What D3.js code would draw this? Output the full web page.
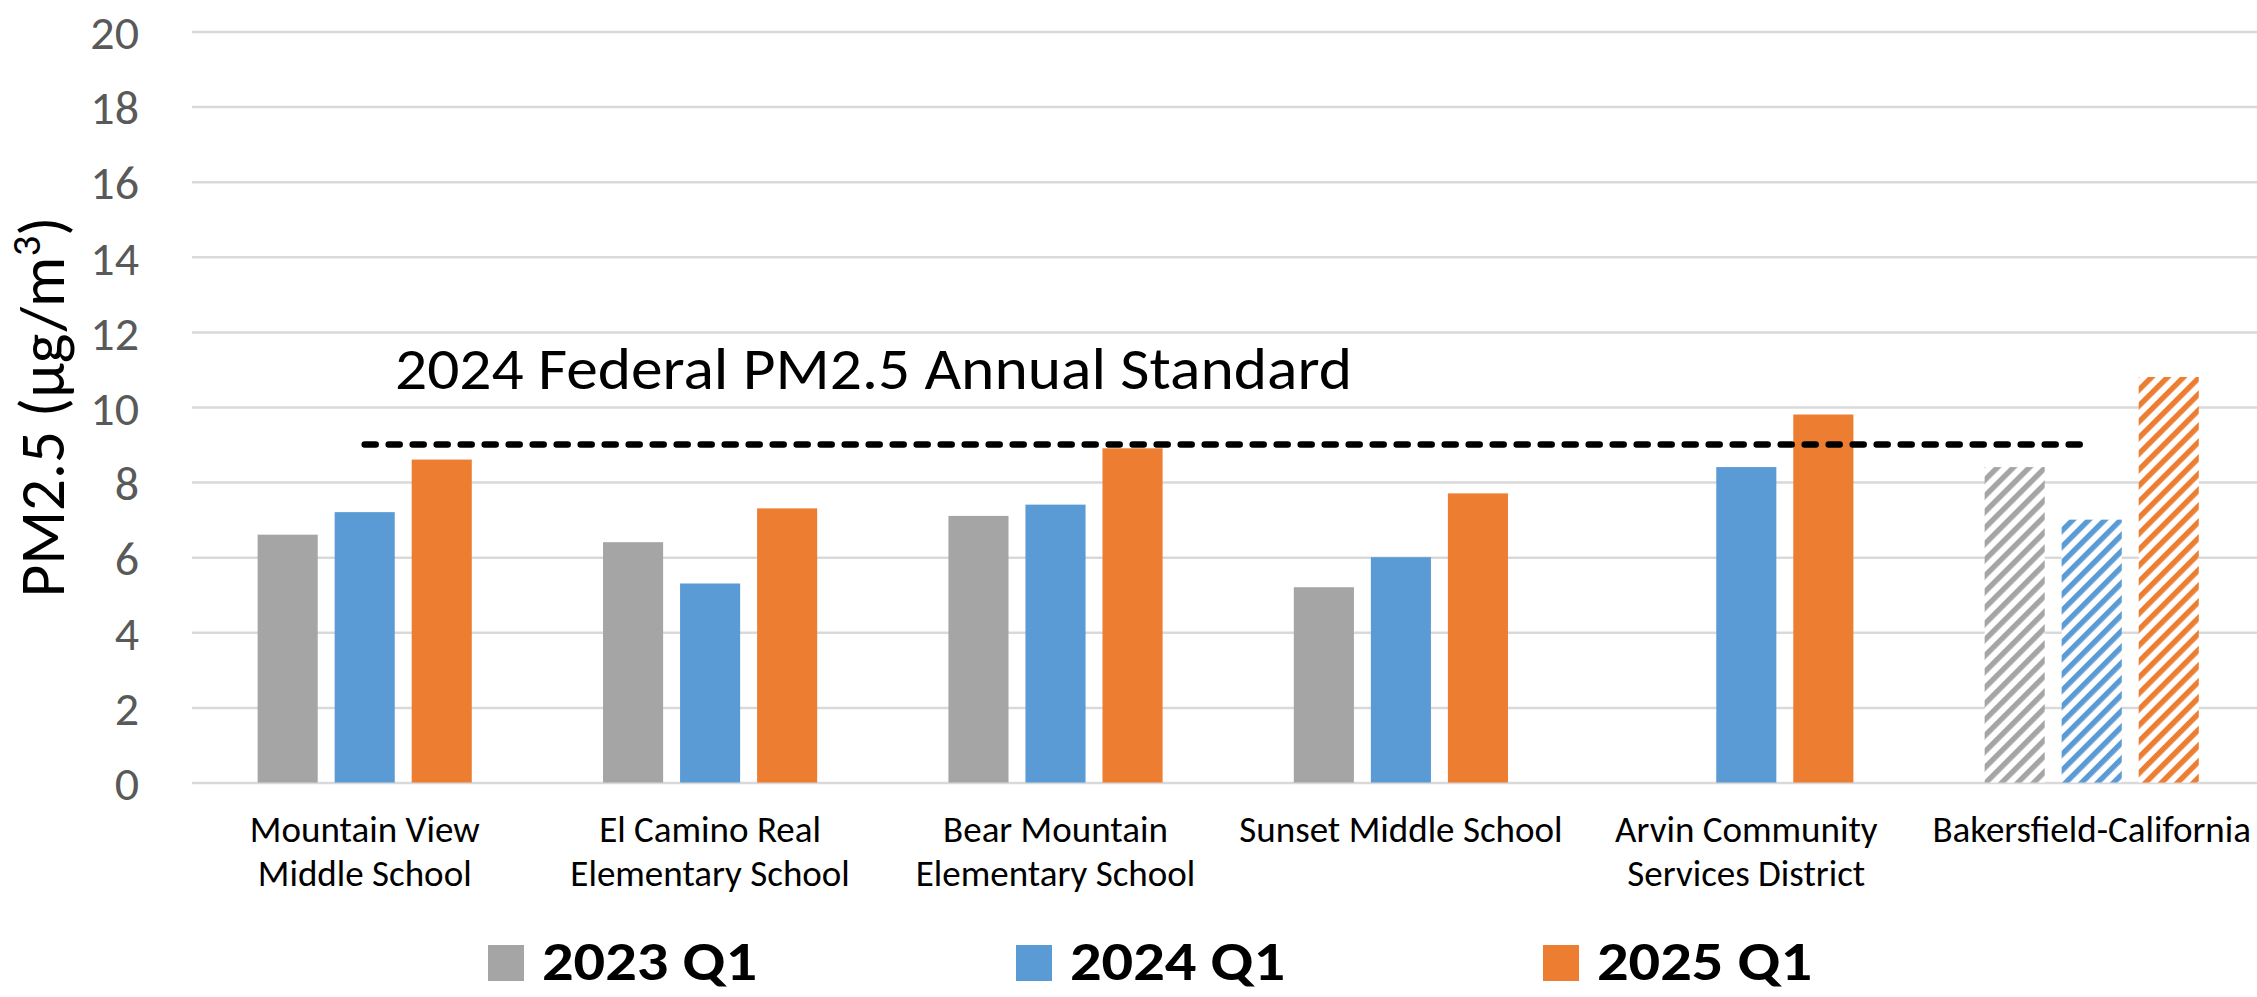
<!DOCTYPE html>
<style>
body {
  margin: 0px;
  overflow: hidden;
  background: #fff;
}

text {
  font-family: Carlito, Calibri, Lato, sans-serif;
}

.tick text {
  font-size: 48px;
  fill: #595959;
}

.grid line {
  stroke: #D9D9D9;
  stroke-width: 2.5;
}

.cat-label {
  font-size: 37px;
  fill: #000;
}

.axis-label {
  font-size: 60px;
  fill: #000;
}

.legend text {
  font-size: 55px;
  font-weight: bold;
  fill: #000;
}
</style>
<html>
  <head>
    <title>PM2.5 Q1 comparison</title>
    <script src="https://cdn.jsdelivr.net/npm/d3@7/dist/d3.min.js"></script>
  </head>
  <body>
    <svg width="2257" height="997"></svg>
    <script>
(function (d3) {
  'use strict';

  // data
  const categories = [
    'Mountain View Middle School',
    'El Camino Real Elementary School',
    'Bear Mountain Elementary School',
    'Sunset Middle School',
    'Arvin Community Services District',
    'Bakersfield-California',
  ];
  // how each category label breaks onto lines
  const labelLines = [
    ['Mountain View', 'Middle School'],
    ['El Camino Real', 'Elementary School'],
    ['Bear Mountain', 'Elementary School'],
    ['Sunset Middle School'],
    ['Arvin Community', 'Services District'],
    ['Bakersfield-California'],
  ];
  const seriesNames = ['2023 Q1', '2024 Q1', '2025 Q1'];
  const q1_2023 = [6.6, 6.4, 7.1, 5.2, null, 8.4];
  const q1_2024 = [7.2, 5.3, 7.4, 6.0, 8.4, 7.0];
  const q1_2025 = [8.6, 7.3, 8.9, 7.7, 9.8, 10.8];
  const hatchedCategories = ['Bakersfield-California'];
  const standardValue = 9;
  const standardLabel = '2024 Federal PM2.5 Annual Standard';
  const yTicks = [0, 2, 4, 6, 8, 10, 12, 14, 16, 18, 20];
  const colors = ['#A5A5A5', '#5B9BD5', '#ED7D31'];

  const seriesValues = [q1_2023, q1_2024, q1_2025];

  const svg = d3.select('svg');
  const width = +svg.attr('width');

  const margin = { top: 31.5, left: 192 };
  const plotBottom = 782.5;

  const yScale = d3.scaleLinear()
    .domain([0, 20])
    .range([plotBottom, margin.top]);

  const step = 345.4;
  const xScale = d3.scaleBand()
    .domain(categories)
    .range([margin.left, margin.left + step * categories.length])
    .paddingInner(0.38)
    .paddingOuter(0.19);

  const xSub = d3.scaleBand()
    .domain(seriesNames)
    .range([0, xScale.bandwidth()])
    .paddingInner(0.22);

  const color = d3.scaleOrdinal().domain(seriesNames).range(colors);

  // hatch patterns
  const defs = svg.append('defs');
  seriesNames.forEach((s, i) => {
    const p = defs.append('pattern')
      .attr('id', 'hatch' + i)
      .attr('patternUnits', 'userSpaceOnUse')
      .attr('width', 11.3)
      .attr('height', 11.3)
      .attr('patternTransform', 'rotate(45)');
    p.append('rect')
      .attr('width', 11.3).attr('height', 11.3)
      .attr('fill', '#fff');
    p.append('rect')
      .attr('width', 5.4).attr('height', 11.3)
      .attr('fill', color(s));
  });

  // gridlines + tick labels
  const yAxis = d3.axisLeft(yScale)
    .tickValues(yTicks)
    .tickSize(-(width - margin.left))
    .tickPadding(53);

  const yAxisG = svg.append('g')
    .attr('class', 'grid')
    .attr('transform', `translate(${margin.left},0)`)
    .call(yAxis);
  yAxisG.select('.domain').remove();
  yAxisG.selectAll('.tick text').attr('dy', '0.36em');

  // bars
  const rows = [];
  categories.forEach((c, ci) => {
    seriesNames.forEach((s, si) => {
      const v = seriesValues[si][ci];
      if (v != null) rows.push({ cat: c, series: s, si: si, value: v });
    });
  });

  svg.append('g')
    .selectAll('rect')
    .data(rows)
    .enter().append('rect')
    .attr('x', (d) => xScale(d.cat) + xSub(d.series))
    .attr('y', (d) => yScale(d.value))
    .attr('width', xSub.bandwidth())
    .attr('height', (d) => yScale(0) - yScale(d.value))
    .attr('fill', (d) => hatchedCategories.indexOf(d.cat) >= 0
      ? `url(#hatch${d.si})` : color(d.series));

  // standard line
  const lineData = categories.map((c) => ({ cat: c, value: standardValue }));
  const line = d3.line()
    .x((d) => xScale(d.cat) + xScale.bandwidth() / 2)
    .y((d) => yScale(d.value));

  svg.append('path')
    .datum(lineData)
    .attr('d', line)
    .attr('fill', 'none')
    .attr('stroke', '#000')
    .attr('stroke-width', 6.5)
    .attr('stroke-linecap', 'round')
    .attr('stroke-dasharray', '11,13');

  svg.append('text')
    .attr('class', 'axis-label')
    .attr('x', 395)
    .attr('y', 389)
    .attr('textLength', 957)
    .attr('lengthAdjust', 'spacingAndGlyphs')
    .text(standardLabel);

  // category labels
  const catG = svg.append('g')
    .selectAll('text')
    .data(categories)
    .enter().append('text')
    .attr('class', 'cat-label')
    .attr('text-anchor', 'middle')
    .attr('transform', (d) => `translate(${xScale(d) + xScale.bandwidth() / 2},842)`);
  catG.selectAll('tspan')
    .data((d, i) => labelLines[i])
    .enter().append('tspan')
    .attr('x', 0)
    .attr('y', (d, i) => i * 44)
    .text((d) => d);

  // y axis title
  const yTitle = svg.append('text')
    .attr('class', 'axis-label')
    .attr('text-anchor', 'middle')
    .style('font-size', '63px')
    .attr('transform', 'translate(64,407) rotate(-90)');
  yTitle.append('tspan').text('PM2.5 (µg/m');
  yTitle.append('tspan')
    .attr('dy', -24)
    .style('font-size', '41px')
    .text('3');
  yTitle.append('tspan')
    .attr('dy', 24)
    .text(')');

  // legend
  const legendX = [488, 1016, 1543];
  const legend = svg.selectAll('.legend')
    .data(seriesNames)
    .enter().append('g')
    .attr('class', 'legend')
    .attr('transform', (d, i) => `translate(${legendX[i]},945)`);
  legend.append('rect')
    .attr('width', 36)
    .attr('height', 36)
    .attr('fill', (d) => color(d));
  legend.append('text')
    .attr('x', 54)
    .attr('y', 35)
    .attr('textLength', 215)
    .attr('lengthAdjust', 'spacingAndGlyphs')
    .text((d) => d);

}(d3));
    </script>
  </body>
</html>
